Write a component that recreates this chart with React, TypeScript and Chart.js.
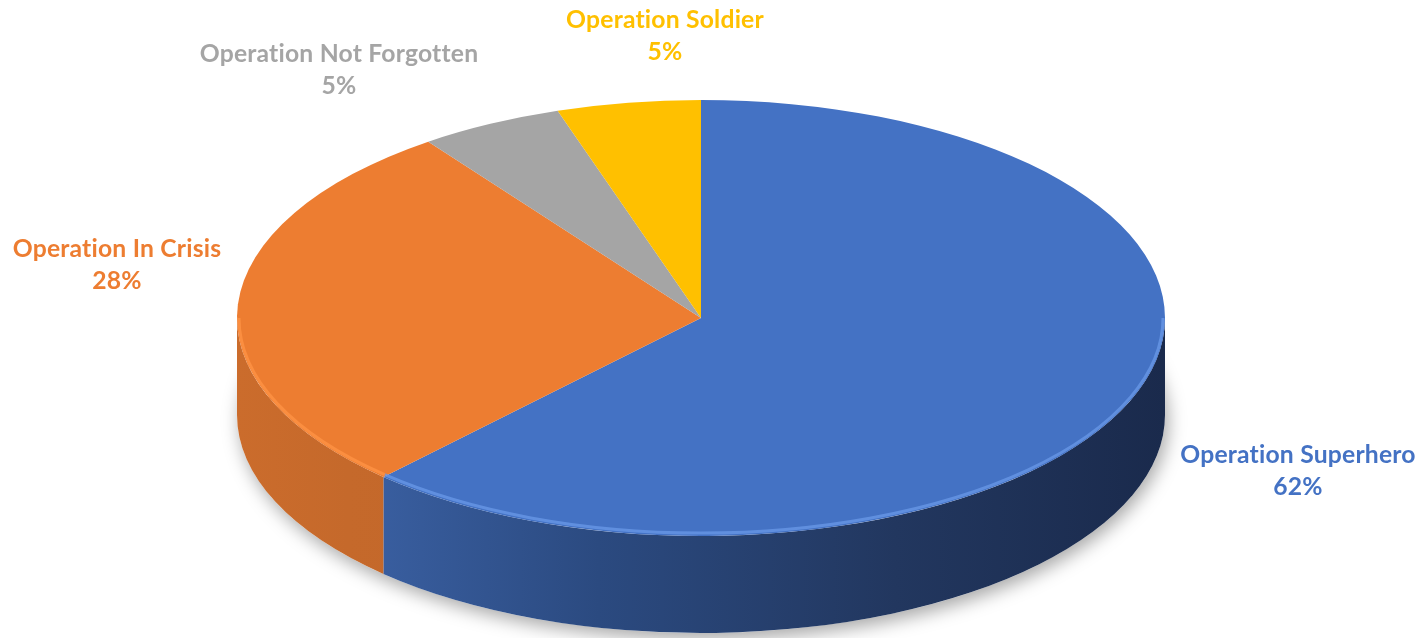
import React, { useEffect, useRef } from "react";
import { Chart, registerables } from "chart.js";

Chart.register(...registerables);

// ---- data ----
const categories = [
  "Operation Superhero",
  "Operation In Crisis",
  "Operation Not Forgotten",
  "Operation Soldier",
];
const shares = [62, 28, 5, 5];
const percentLabels = ["62%", "28%", "5%", "5%"];

// ---- styles ----
const topColors = ["#4472C4", "#ED7D31", "#A5A5A5", "#FFC000"];
const labelColors = ["#4472C4", "#ED7D31", "#A5A5A5", "#FFC000"];
const rimColors = ["#6a9ae8", "#ff9446", "#c8c8c8", "#ffd24a"];

// geometry of the projected pie (top face ellipse + extrusion depth)
const GEOM = { cx: 701, cy: 318, rx: 464, ry: 218, depth: 97 };
// label anchors (baseline of the first line), text layout only
const LABEL_POS = [
  { x: 1298, y: 463 },
  { x: 117, y: 257 },
  { x: 339, y: 62 },
  { x: 665, y: 28 },
];
const LINE_GAP = 32;
const FONT_FAMILY = "Lato, 'Open Sans', sans-serif";

function frontSpans(s: number, e: number): [number, number][] {
  const out: [number, number][] = [];
  for (let k = -2; k <= 2; k++) {
    const lo = Math.max(s, 2 * Math.PI * k);
    const hi = Math.min(e, 2 * Math.PI * k + Math.PI);
    if (hi > lo + 1e-6) out.push([lo, hi]);
  }
  return out;
}

function sideFill(ctx: CanvasRenderingContext2D, i: number) {
  const { cx, rx } = GEOM;
  const g = ctx.createLinearGradient(cx - rx, 0, cx + rx, 0);
  if (i === 0) {
    g.addColorStop(0, "#3f67ac");
    g.addColorStop(0.114, "#3b61a4");
    g.addColorStop(0.39, "#2b4a80");
    g.addColorStop(0.71, "#22375f");
    g.addColorStop(1, "#1a2a4c");
  } else if (i === 1) {
    g.addColorStop(0, "#cb6c2c");
    g.addColorStop(0.12, "#c5692b");
    g.addColorStop(1, "#b85d22");
  } else if (i === 2) {
    g.addColorStop(0, "#7c7c7c");
    g.addColorStop(1, "#6a6a6a");
  } else {
    g.addColorStop(0, "#bf9000");
    g.addColorStop(1, "#a67d00");
  }
  return g;
}

const pie3d = {
  id: "pie3d",
  beforeDatasetsDraw(chart: any) {
    const meta = chart.getDatasetMeta(0);
    const arcs = meta.data;
    if (!arcs.length) return;
    const ctx: CanvasRenderingContext2D = chart.ctx;
    const first = arcs[0];
    const R = first.outerRadius;
    const ox = first.x;
    const oy = first.y;
    const { cx, cy, rx, ry, depth } = GEOM;
    ctx.save();
    // soft shadow under the pie
    ctx.save();
    ctx.shadowColor = "rgba(0,0,0,0.35)";
    ctx.shadowBlur = 18;
    ctx.shadowOffsetY = 6;
    ctx.shadowOffsetX = 3;
    ctx.beginPath();
    ctx.ellipse(cx, cy + depth, rx, ry, 0, 0, 2 * Math.PI);
    ctx.fillStyle = "#ffffff";
    ctx.fill();
    ctx.restore();
    // side walls
    arcs.forEach((arc: any, i: number) => {
      const { startAngle, endAngle } = arc.getProps(["startAngle", "endAngle"], true);
      for (const [a0, a1] of frontSpans(startAngle, endAngle)) {
        ctx.beginPath();
        ctx.ellipse(cx, cy, rx, ry, 0, a0, a1, false);
        ctx.ellipse(cx, cy + depth, rx, ry, 0, a1, a0, true);
        ctx.closePath();
        ctx.fillStyle = sideFill(ctx, i);
        ctx.fill();
      }
    });
    // project the library's circular pie onto the top ellipse
    ctx.translate(cx, cy);
    ctx.scale(rx / R, ry / R);
    ctx.translate(-ox, -oy);
  },
  afterDatasetsDraw(chart: any) {
    const meta = chart.getDatasetMeta(0);
    const arcs = meta.data;
    if (!arcs.length) return;
    const ctx: CanvasRenderingContext2D = chart.ctx;
    ctx.restore();
    const { cx, cy, rx, ry } = GEOM;
    // bevel highlight along the front rim
    ctx.save();
    arcs.forEach((arc: any, i: number) => {
      const { startAngle, endAngle } = arc.getProps(["startAngle", "endAngle"], true);
      for (const [a0, a1] of frontSpans(startAngle, endAngle)) {
        ctx.beginPath();
        ctx.ellipse(cx, cy, rx - 2, ry - 3, 0, a0, a1, false);
        ctx.strokeStyle = rimColors[i];
        ctx.globalAlpha = 0.75;
        ctx.lineWidth = 3;
        ctx.stroke();
      }
    });
    ctx.restore();
    // data labels
    ctx.save();
    (ctx as any).letterSpacing = "0.2px";
    ctx.font = `bold 100px ${FONT_FAMILY}`;
    const w100 = ctx.measureText(categories[0]).width;
    const size = Math.round(((100 * 233) / w100) * 10) / 10;
    ctx.font = `bold ${size}px ${FONT_FAMILY}`;
    ctx.textAlign = "center";
    ctx.textBaseline = "alphabetic";
    categories.forEach((name, i) => {
      const p = LABEL_POS[i];
      ctx.fillStyle = labelColors[i];
      ctx.fillText(name, p.x, p.y);
      ctx.fillText(percentLabels[i], p.x, p.y + LINE_GAP);
    });
    ctx.restore();
  },
};

export default function App() {
  const ref = useRef<HTMLCanvasElement>(null);
  useEffect(() => {
    if (!ref.current) return;
    const chart = new Chart(ref.current, {
      type: "pie",
      data: {
        labels: categories,
        datasets: [
          {
            data: shares,
            backgroundColor: topColors,
            borderWidth: 0,
            clip: false as any,
          } as any,
        ],
      },
      options: {
        responsive: false,
        animation: false,
        events: [],
        layout: { padding: 0 },
        plugins: {
          legend: { display: false },
          tooltip: { enabled: false },
        },
      },
      plugins: [pie3d as any],
    });
    return () => chart.destroy();
  }, []);
  return (
    <div style={{ position: "fixed", left: 0, top: 0, width: 1424, height: 638, background: "#fff" }}>
      <canvas ref={ref} width={1424} height={638} style={{ display: "block" }} />
    </div>
  );
}
